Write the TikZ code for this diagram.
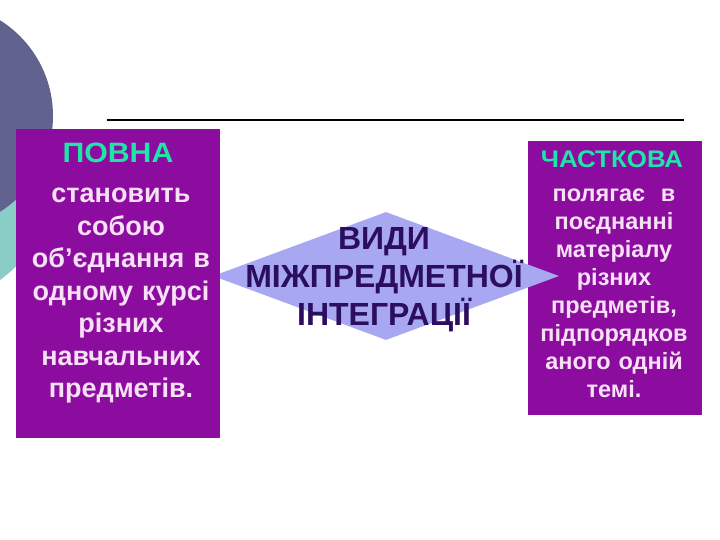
\documentclass[tikz,border=0pt]{standalone}
\usepackage{fontspec}
\setmainfont{Liberation Sans}
\usetikzlibrary{shapes.geometric}

\definecolor{slatebg}{RGB}{98,98,142}
\definecolor{tealbg}{RGB}{138,204,198}
\definecolor{boxpurple}{RGB}{140,12,160}
\definecolor{headteal}{RGB}{32,228,168}
\definecolor{bodypink}{RGB}{248,224,246}
\definecolor{diamondblue}{RGB}{168,168,242}
\definecolor{kindnavy}{RGB}{44,14,96}

\begin{document}
\begin{tikzpicture}[x=1pt,y=-1pt,
  box/.style={rectangle,fill=boxpurple,inner sep=0pt},
  head/.style={text=headteal,anchor=base,inner sep=0pt,font=\bfseries\fontsize{28}{28}\selectfont},
  body/.style={text=bodypink,anchor=base,inner sep=0pt,align=center,text width=210pt}]
\useasboundingbox (0,0) rectangle (720,540);
\fill[tealbg] (-80,170) circle (136pt);
\fill[slatebg] (-60,116) circle (113pt);

\coordinate (rulestart) at (107,120);
\coordinate (ruleend) at (684,120);
\draw[line width=1.2pt] (rulestart) -- (ruleend);

\node[box,minimum width=174pt,minimum height=274pt] (partbox) at (615,278) {};
\node[diamond,fill=diamondblue,inner sep=0pt,minimum width=346pt,minimum height=128pt] (kinds) at (386,276) {};
\node[box,minimum width=204pt,minimum height=309pt] (fullbox) at (118,283.5) {};

\node[head] (fullhead) at (118,163) {\scalebox{1.08}[1]{ПОВНА}};
\node[body,font=\bfseries\fontsize{27}{32.5}\selectfont] (fulltext) at (121,203)
  {становить\\собою\\об’єднання в\\одному курсі\\різних\\навчальних\\предметів.};

\node[head,font=\bfseries\fontsize{24}{24}\selectfont] (parthead) at (612,168) {\scalebox{1.08}[1]{ЧАСТКОВА}};
\node[body,font=\bfseries\fontsize{23.5}{27.9}\selectfont] (parttext) at (614,202)
  {полягає~ в\\поєднанні\\матеріалу\\різних\\предметів,\\підпорядков\\аного одній\\темі.};

\node[body,text=kindnavy,text width=300pt,font=\bfseries\fontsize{32}{38}\selectfont] (kindstext) at (384,249)
  {ВИДИ\\МІЖПРЕДМЕТНОЇ\\ІНТЕГРАЦІЇ};
\end{tikzpicture}
\end{document}
